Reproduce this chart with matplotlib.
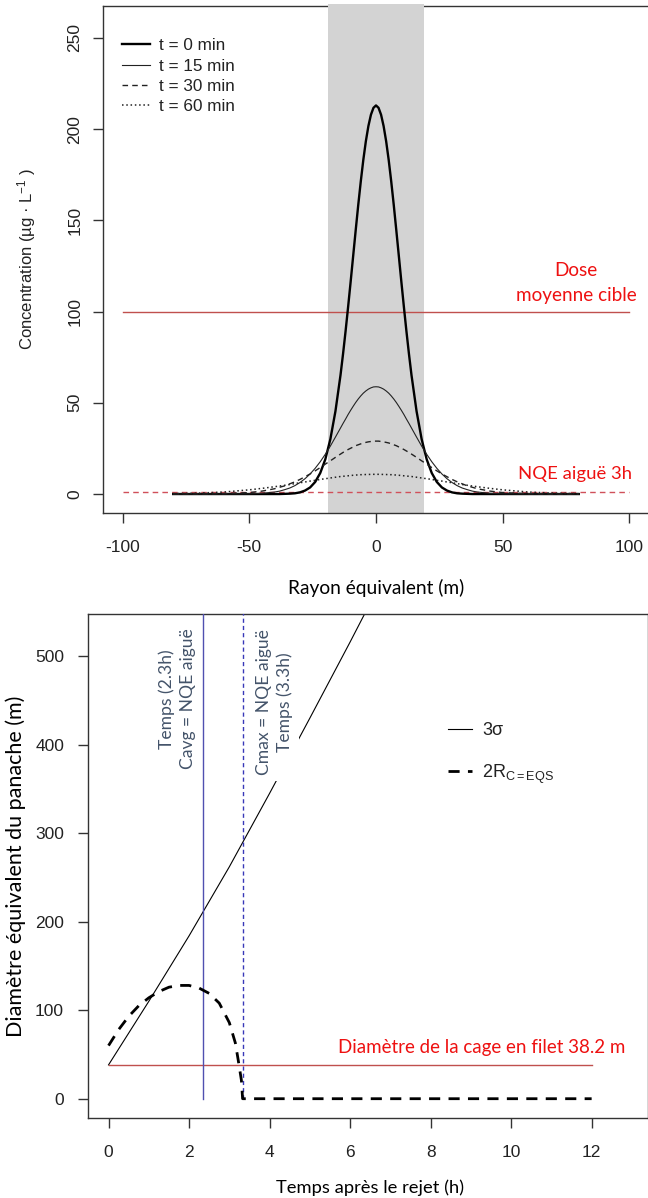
import matplotlib
matplotlib.use("Agg")
import matplotlib.pyplot as plt

plt.rcParams['mathtext.fontset'] = 'custom'
plt.rcParams['mathtext.rm'] = 'Liberation Sans'
plt.rcParams['mathtext.it'] = 'Liberation Sans'
plt.rcParams['mathtext.sf'] = 'Liberation Sans'

# ---------------- data: top panel ----------------
rayon = [-80, -70, -60, -50, -45, -40, -38, -36, -34, -32, -30, -28, -26, -24, -22, -20,
         -18, -16, -14, -13, -12, -11, -10, -9, -8, -7, -6, -5, -4, -3, -2, -1, 0,
         1, 2, 3, 4, 5, 6, 7, 8, 9, 10, 11, 12, 13, 14, 16, 18, 20,
         22, 24, 26, 28, 30, 32, 34, 36, 38, 40, 45, 50, 60, 70, 80]
conc_t0 = [0.0, 0.0, 0.0, 0.0, 0.0, 0.0, 0.0, 0.1, 0.2, 0.4, 0.9, 1.9, 3.6, 6.6, 11.5, 19.0,
           30.1, 45.4, 65.2, 76.8, 89.3, 102.6, 116.4, 130.6, 144.7, 158.5, 171.4, 183.2,
           193.4, 201.7, 207.9, 211.7, 213.0,
           211.7, 207.9, 201.7, 193.4, 183.2, 171.4, 158.5, 144.7, 130.6, 116.4, 102.6, 89.3,
           76.8, 65.2, 45.4, 30.1, 19.0, 11.5, 6.6, 3.6, 1.9, 0.9, 0.4,
           0.2, 0.1, 0.0, 0.0, 0.0, 0.0, 0.0, 0.0, 0.0]
conc_t15 = [0.0, 0.0, 0.0, 0.1, 0.4, 1.1, 1.6, 2.4, 3.3, 4.6, 6.3, 8.4, 11.0, 14.1, 17.7, 21.8,
            26.3, 31.2, 36.2, 38.7, 41.1, 43.6, 45.9, 48.1, 50.2, 52.1, 53.8, 55.3, 56.5, 57.5,
            58.2, 58.7, 58.8,
            58.7, 58.2, 57.5, 56.5, 55.3, 53.8, 52.1, 50.2, 48.1, 45.9, 43.6, 41.1, 38.7, 36.2,
            31.2, 26.3, 21.8, 17.7, 14.1, 11.0, 8.4, 6.3, 4.6, 3.3, 2.4, 1.6,
            1.1, 0.4, 0.1, 0.0, 0.0, 0.0]
conc_t30 = [0.0, 0.0, 0.2, 0.8, 1.6, 2.9, 3.7, 4.5, 5.6, 6.7, 8.0, 9.5, 11.0, 12.7, 14.5, 16.4,
            18.2, 20.1, 21.9, 22.8, 23.6, 24.4, 25.1, 25.8, 26.5, 27.0, 27.5, 28.0, 28.3, 28.6,
            28.8, 29.0, 29.0,
            29.0, 28.8, 28.6, 28.3, 28.0, 27.5, 27.0, 26.5, 25.8, 25.1, 24.4, 23.6, 22.8, 21.9,
            20.1, 18.2, 16.4, 14.5, 12.7, 11.0, 9.5, 8.0, 6.7, 5.6, 4.5, 3.7,
            2.9, 1.6, 0.8, 0.2, 0.0, 0.0]
conc_t60 = [0.2, 0.5, 1.1, 2.3, 3.1, 4.0, 4.4, 4.8, 5.2, 5.7, 6.2, 6.6, 7.1, 7.5, 8.0, 8.4,
            8.8, 9.2, 9.6, 9.7, 9.9, 10.0, 10.1, 10.3, 10.4, 10.5, 10.6, 10.6, 10.7, 10.7,
            10.8, 10.8, 10.8,
            10.8, 10.8, 10.7, 10.7, 10.6, 10.6, 10.5, 10.4, 10.3, 10.1, 10.0, 9.9, 9.7, 9.6,
            9.2, 8.8, 8.4, 8.0, 7.5, 7.1, 6.6, 6.2, 5.7, 5.2, 4.8, 4.4,
            4.0, 3.1, 2.3, 1.1, 0.5, 0.2]
series_labels = ['t = 0 min', 't = 15 min', 't = 30 min', 't = 60 min']
dose_cible = 100
nqe_aigue = 1.0
cage_rayon = 19.1
top_xticks = [-100, -50, 0, 50, 100]
top_yticks = [0, 50, 100, 150, 200, 250]

# ---------------- data: bottom panel ----------------
temps_sigma = [0, 1, 2, 3, 4, 5, 6, 7]
diam_sigma = [38.2, 110, 184, 262, 345, 430, 516, 604]
temps_r = [0, 0.25, 0.5, 0.75, 1.0, 1.25, 1.5, 1.75, 2.0, 2.25, 2.5, 2.75, 3.0, 3.15, 3.22,
           3.3, 3.33, 12]
diam_r = [60, 78, 93, 105, 114, 121, 126, 128, 128, 125, 119, 108, 86, 63, 44, 21, 0, 0]
cage_diam = 38.2
t_cavg = 2.35
t_cmax = 3.33
bot_xticks = [0, 2, 4, 6, 8, 10, 12]
bot_yticks = [0, 100, 200, 300, 400, 500]

W, H = 648, 1198
fig = plt.figure(figsize=(W / 100, H / 100), dpi=100)

TICKFONT = 'Liberation Sans'
CAL = 'Lato'
tick_col = '#222222'
spine_col = '#333333'
red_line = '#C0504D'
red_text = '#EE1111'
blue_text = '#44546A'


def style_axes(ax):
    for s in ax.spines.values():
        s.set_color(spine_col)
        s.set_linewidth(1.0)
    ax.tick_params(length=7.2, width=1.0, color=spine_col, labelcolor=tick_col,
                   labelsize=12.5)
    for lab in ax.get_xticklabels() + ax.get_yticklabels():
        lab.set_fontfamily(TICKFONT)


# ================= top panel =================
ax1 = fig.add_axes([103 / W, 1 - 513 / H, 546 / W, 507 / H])
ax1.set_xlim(-107.7, 107.7)
ax1.set_ylim(-10.4, 267.5)
ax1.axvspan(-cage_rayon, cage_rayon, ymin=0, ymax=1.004, color='#D3D3D3', lw=0,
            zorder=3, clip_on=False)
ax1.spines['bottom'].set_zorder(5)
ax1.plot([-100, 100], [dose_cible, dose_cible], color=red_line, lw=1.0, zorder=4)
ax1.plot([-100, 100], [nqe_aigue, nqe_aigue], color='#D0505A', lw=1.0,
         dashes=(4, 3), zorder=4)
l0, = ax1.plot(rayon, conc_t0, color='black', lw=1.7, zorder=6)
l1, = ax1.plot(rayon, conc_t15, color='#222222', lw=0.8, zorder=6)
l2, = ax1.plot(rayon, conc_t30, color='#222222', lw=1.0, dashes=(4, 3), zorder=6)
l3, = ax1.plot(rayon, conc_t60, color='#222222', lw=1.1, dashes=(1, 1.8), zorder=6)
ax1.set_xticks(top_xticks)
ax1.set_yticks(top_yticks)
ax1.set_xticklabels([str(v) for v in top_xticks])
ax1.set_yticklabels([str(v) for v in top_yticks])
style_axes(ax1)
ax1.tick_params(axis='x', pad=12)
ax1.tick_params(axis='y', pad=7.5, labelrotation=90)
for lab in ax1.get_yticklabels():
    lab.set_va('center')

leg1 = ax1.legend([l0, l1, l2, l3], series_labels, loc='upper left',
                  bbox_to_anchor=(0.035, 0.936), frameon=False, borderpad=0,
                  borderaxespad=0, handlelength=1.65, handletextpad=0.5,
                  labelspacing=0.31, prop={'family': TICKFONT, 'size': 12.3})
for t in leg1.get_texts():
    t.set_color(tick_col)

ax1.text(78.9, 122.5, 'Dose', color=red_text, fontsize=13.6, family=CAL,
         ha='center', va='center', zorder=7)
ax1.text(78.9, 109, 'moyenne cible', color=red_text, fontsize=13.6, family=CAL,
         ha='center', va='center', zorder=7)
ax1.text(78.5, 11, 'NQE aiguë 3h', color=red_text, fontsize=13.3, family=CAL,
         ha='center', va='center', zorder=7)

fig.text(27 / W, 1 - 259 / H, 'Concentration (µg · L$^{-1}$ )', rotation=90,
         ha='center', va='center', fontsize=12, family=TICKFONT, color=tick_col)
fig.text(376 / W, 1 - 588 / H, 'Rayon équivalent (m)', ha='center', va='center',
         fontsize=13.8, family=CAL, color='black')

# ================= bottom panel =================
ax2 = fig.add_axes([88 / W, 1 - 1118 / H, 560 / W, 504 / H])
ax2.set_xlim(-0.51, 13.4)
ax2.set_ylim(-21.8, 547.7)
ax2.plot([0, 12], [cage_diam, cage_diam], color=red_line, lw=1.0, zorder=3)
ax2.plot([t_cavg, t_cavg], [0, 600], color='#5050B0', lw=1.0, zorder=3)
ax2.plot([t_cmax, t_cmax], [0, 600], color='#3838B8', lw=1.0, dashes=(3, 2.2), zorder=3)
s1, = ax2.plot(temps_sigma, diam_sigma, color='black', lw=0.8, zorder=2)
s2, = ax2.plot(temps_r, diam_r, color='black', lw=2.0, dashes=(4, 3), zorder=4)
ax2.set_xticks(bot_xticks)
ax2.set_yticks(bot_yticks)
ax2.set_xticklabels([str(v) for v in bot_xticks])
ax2.set_yticklabels([str(v) for v in bot_yticks])
style_axes(ax2)
ax2.tick_params(axis='x', pad=12)
ax2.tick_params(axis='y', pad=10)

leg2 = ax2.legend([s1, s2], ['3σ', '2R$_{\\mathregular{C=EQS}}$'], loc='upper left',
                  bbox_to_anchor=(0.643, 0.786), frameon=False, borderpad=0,
                  borderaxespad=0, handlelength=1.3, handletextpad=0.6,
                  labelspacing=1.3, prop={'family': TICKFONT, 'size': 13})
for t in leg2.get_texts():
    t.set_color(tick_col)

ax2.text(1.70, 452, 'Temps (2.3h)\nCavg = NQE aiguë', rotation=90, ha='center',
         va='center', multialignment='center', color=blue_text, fontsize=12.6,
         family=CAL, linespacing=1.35, zorder=5)
ax2.text(4.12, 448, 'Cmax = NQE aiguë\nTemps (3.3h)', rotation=90, ha='center',
         va='center', multialignment='center', color=blue_text, fontsize=12.6,
         family=CAL, linespacing=1.35, zorder=5,
         bbox=dict(facecolor='white', edgecolor='none', pad=4))
ax2.text(9.28, 57.6, 'Diamètre de la cage en filet 38.2 m', ha='center', va='center',
         color=red_text, fontsize=13.5, family=CAL, zorder=5)

fig.text(16 / W, 1 - 866 / H, 'Diamètre équivalent du panache (m)', rotation=90,
         ha='center', va='center', fontsize=15.5, family=CAL, color='black')
fig.text(370 / W, 1 - 1188 / H, 'Temps après le rejet (h)', ha='center', va='center',
         fontsize=13.2, family=CAL, color='black')

fig.savefig('out.png', dpi=100)
